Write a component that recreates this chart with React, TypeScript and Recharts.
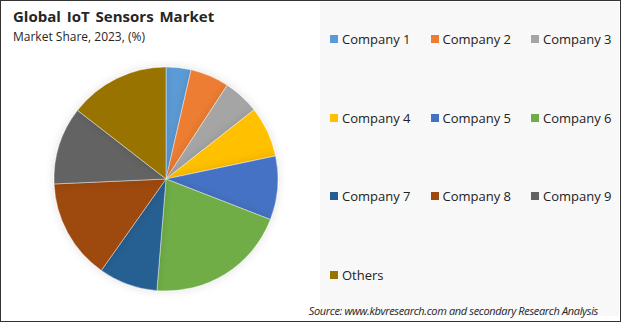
import React from "react";
import { PieChart, Pie, Cell, Legend } from "recharts";

const companies = [
  "Company 1",
  "Company 2",
  "Company 3",
  "Company 4",
  "Company 5",
  "Company 6",
  "Company 7",
  "Company 8",
  "Company 9",
  "Others",
];
const shares = [3.6, 5.6, 5.2, 7.3, 9.2, 20.4, 8.5, 14.5, 11.2, 14.5];
const colors = [
  "#5B9BD5",
  "#ED7D31",
  "#A5A5A5",
  "#FFC000",
  "#4472C4",
  "#70AD47",
  "#255E91",
  "#9E480E",
  "#636363",
  "#997300",
];

const data = companies.map((name, i) => ({ name, value: shares[i] }));

const font = "'Open Sans', 'Noto Sans', sans-serif";

const LegendGrid = () => (
  <div style={{ position: "relative", width: 300, height: 315 }}>
    {companies.map((name, i) => {
      const col = i % 3;
      const row = Math.floor(i / 3);
      return (
        <div
          key={name}
          style={{
            position: "absolute",
            left: 10 + col * 100.5,
            top: 29 + row * 78.6,
            display: "flex",
            alignItems: "center",
            height: 18,
            whiteSpace: "nowrap",
          }}
        >
          <span
            style={{
              display: "inline-block",
              width: 8,
              height: 8,
              background: colors[i],
              marginRight: 4,
            }}
          />
          <span style={{ fontSize: 13, color: "#222", fontFamily: font }}>{name}</span>
        </div>
      );
    })}
  </div>
);

const App: React.FC = () => {
  return (
    <div
      style={{
        position: "absolute",
        left: 0,
        top: 0,
        width: 621,
        height: 322,
        boxSizing: "border-box",
        border: "1px solid #333",
        background: "#fff",
        fontFamily: font,
        overflow: "hidden",
      }}
    >
      <div
        style={{
          position: "absolute",
          left: 319,
          top: 1,
          width: 299,
          height: 314,
          background: "#F8F8F8",
        }}
      />
      <div
        style={{
          position: "absolute",
          left: 12,
          top: 5,
          fontSize: 15,
          fontWeight: 700,
          color: "#262626",
          wordSpacing: 2,
        }}
      >
        Global IoT Sensors Market
      </div>
      <div
        style={{
          position: "absolute",
          left: 12,
          top: 27,
          fontSize: 12,
          color: "#262626",
        }}
      >
        Market Share, 2023, (%)
      </div>
      <div style={{ position: "absolute", left: -1, top: -1 }}>
        <PieChart width={621} height={322} margin={{ top: 0, right: 0, bottom: 0, left: 0 }}>
          <defs>
            <filter id="pieShadow" x="-20%" y="-20%" width="140%" height="140%">
              <feDropShadow dx="0" dy="0" stdDeviation="5" floodColor="#000" floodOpacity="0.12" />
            </filter>
          </defs>
          <Pie
            data={data}
            dataKey="value"
            nameKey="name"
            cx={166}
            cy={179}
            outerRadius={112}
            startAngle={90}
            endAngle={-270}
            stroke="#ffffff"
            strokeWidth={0.4}
            isAnimationActive={false}
            style={{ filter: "url(#pieShadow)" }}
          >
            {data.map((d, i) => (
              <Cell key={d.name} fill={colors[i]} />
            ))}
          </Pie>
          <Legend
            content={<LegendGrid />}
            wrapperStyle={{ position: "absolute", left: 320, top: 1, width: 300, height: 315 }}
          />
        </PieChart>
      </div>
      <div
        style={{
          position: "absolute",
          right: 22,
          top: 302,
          fontSize: 11,
          fontStyle: "italic",
          color: "#262626",
          letterSpacing: -0.35,
          whiteSpace: "nowrap",
        }}
      >
        Source: www.kbvresearch.com and secondary Research Analysis
      </div>
    </div>
  );
};

export default App;
